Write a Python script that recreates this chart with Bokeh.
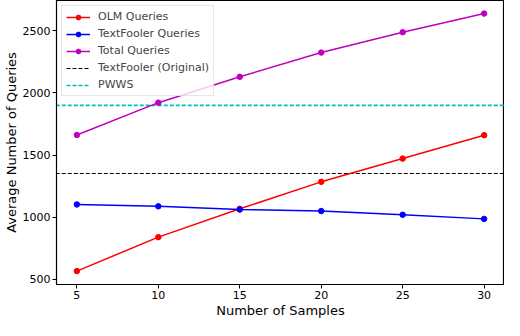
from bokeh.plotting import figure
from bokeh.models import Range1d, FixedTicker, Legend, LegendItem
from bokeh.embed import file_html
from bokeh.resources import INLINE

samples = [5, 10, 15, 20, 25, 30]
olm_queries = [567, 840, 1068, 1285, 1472, 1660]
textfooler_queries = [1103, 1088, 1062, 1050, 1020, 987]
total_queries = [1662, 1922, 2130, 2325, 2489, 2639]
textfooler_original = 1352
pwws = 1900
y_ticks = [500, 1000, 1500, 2000, 2500]

FONT = "DejaVu Sans"

p = figure(width=504, height=320, output_backend="svg", toolbar_location=None,
           x_range=Range1d(3.75, 31.25), y_range=Range1d(459, 2744),
           min_border_left=40, min_border_right=0, min_border_top=0, min_border_bottom=0)
p.grid.visible = False
p.outline_line_color = "black"
p.outline_line_width = 1.2

for ax in (p.xaxis[0], p.yaxis[0]):
    ax.major_label_text_font = FONT
    ax.major_label_text_font_size = "11px"
    ax.major_label_text_color = "black"
    ax.axis_label_text_font = FONT
    ax.axis_label_text_font_size = "13px"
    ax.axis_label_text_font_style = "normal"
    ax.axis_label_text_color = "black"
    ax.axis_line_color = "black"
    ax.major_tick_line_color = "black"
    ax.major_tick_out = 4
    ax.major_tick_in = 0
    ax.minor_tick_line_color = None
    ax.axis_label_standoff = 1
    ax.major_label_standoff = 2

p.xaxis.ticker = FixedTicker(ticks=samples)
p.yaxis.ticker = FixedTicker(ticks=y_ticks)
p.xaxis.axis_label = "Number of Samples"
p.yaxis.axis_label = "Average Number of Queries"

# horizontal baselines spanning well beyond the visible x range
span_x = [samples[0] - 100, samples[-1] + 100]
d1 = p.line(span_x, [textfooler_original] * 2, line_color="black",
            line_dash="4 2", line_width=1)
d2 = p.line(span_x, [pwws] * 2, line_color="#00bfbf",
            line_dash="4 2", line_width=1.6)

series = [
    ("OLM Queries", olm_queries, "#ff0000"),
    ("TextFooler Queries", textfooler_queries, "#0000ff"),
    ("Total Queries", total_queries, "#bf00bf"),
]
items = []
for label, ys, color in series:
    l = p.line(samples, ys, line_color=color, line_width=1.5)
    s = p.scatter(samples, ys, size=5.5, fill_color=color, line_color=color)
    items.append(LegendItem(label=label, renderers=[l, s]))

items.append(LegendItem(label="TextFooler (Original)", renderers=[d1]))
items.append(LegendItem(label="PWWS", renderers=[d2]))

legend = Legend(items=items, location="top_left")
legend.label_text_font = FONT
legend.label_text_font_size = "11px"
legend.label_height = 12
legend.glyph_height = 12
legend.glyph_width = 24
legend.spacing = 4
legend.padding = 4
legend.margin = 5
legend.label_standoff = 8
legend.border_line_color = "#d0d0d0"
legend.border_line_width = 1
legend.background_fill_alpha = 0.8
p.add_layout(legend)

open("out.html", "w").write(file_html(p, INLINE))
